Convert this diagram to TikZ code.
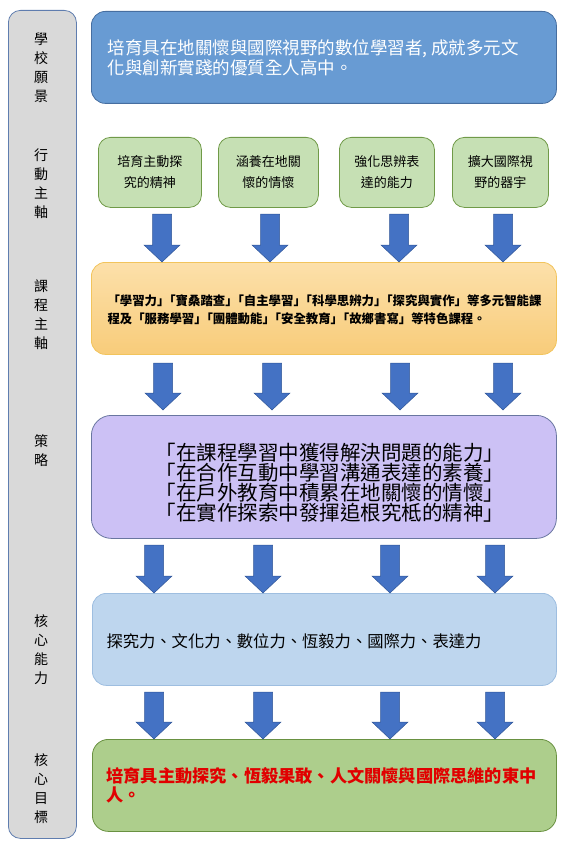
\documentclass[tikz,border=0pt]{standalone}
\usepackage{fontspec}
\setmainfont{Noto Sans CJK TC}
\definecolor{colfill}{RGB}{217,217,217}
\definecolor{colline}{RGB}{95,125,175}
\definecolor{visfill}{RGB}{104,155,211}
\definecolor{visline}{RGB}{70,110,160}
\definecolor{actfill}{RGB}{198,224,180}
\definecolor{actline}{RGB}{112,154,72}
\definecolor{crstop}{RGB}{252,224,170}
\definecolor{crsbot}{RGB}{248,204,122}
\definecolor{crsline}{RGB}{242,196,92}
\definecolor{strfill}{RGB}{204,193,245}
\definecolor{strline}{RGB}{105,118,160}
\definecolor{capfill}{RGB}{190,214,238}
\definecolor{capline}{RGB}{158,190,224}
\definecolor{goalfill}{RGB}{173,206,140}
\definecolor{goalline}{RGB}{105,145,65}
\definecolor{goaltext}{RGB}{225,0,0}
\definecolor{arrfill}{RGB}{68,114,196}
\definecolor{arrline}{RGB}{47,85,151}
\newcommand\blockarrow[3]{%
  \filldraw[arrowshape] (#1-9.5,#2) -- (#1+9.5,#2) -- (#1+9.5,#3-17) -- (#1+18,#3-17)
    -- (#1,#3) -- (#1-18,#3-17) -- (#1-9.5,#3-17) -- cycle;}
\tikzset{
  bigbox/.style={rounded corners=14pt, line width=0.8pt, inner sep=0pt, anchor=north west},
  actbox/.style={bigbox, rounded corners=12pt, fill=actfill, draw=actline, minimum height=70pt},
  acttext/.style={align=center, font=\fontsize{13pt}{21pt}\selectfont},
  sidelabel/.style={align=center, font=\fontsize{14pt}{19pt}\selectfont},
  arrowshape/.style={fill=arrfill, draw=arrline, line width=0.5pt},
}
\newcommand\crk{\kern-.5em}
\begin{document}
\begin{tikzpicture}[x=1pt,y=-1pt]
\useasboundingbox (0,0) rectangle (563,845);
% left column
\node[bigbox, rounded corners=12pt, fill=colfill, draw=colline, minimum width=68pt, minimum height=828pt] (col) at (8,10) {};
\node[sidelabel] (l1) at (41,68) {學\\校\\願\\景};
\node[sidelabel] (l2) at (41,183.5) {行\\動\\主\\軸};
\node[sidelabel] (l3) at (41,315) {課\\程\\主\\軸};
\node[sidelabel] (l4) at (41,451) {策\\略};
\node[sidelabel] (l5) at (41,650) {核\\心\\能\\力};
\node[sidelabel] (l6) at (41,789) {核\\心\\目\\標};
% vision
\node[bigbox, fill=visfill, draw=visline, minimum width=465pt, minimum height=92pt] (vision) at (91,11) {};
\node[anchor=west, align=left, text=white, font=\fontsize{17.5pt}{20pt}\selectfont] (visiontext) at ([xshift=13pt]vision.west)
  {培育具在地關懷與國際視野的數位學習者, 成就多元文\\化與創新實踐的優質全人高中。};
% action boxes
\node[actbox, minimum width=103pt] (a1) at (98,137) {};
\node[actbox, minimum width=100pt] (a2) at (218,137) {};
\node[actbox, minimum width=95pt] (a3) at (339,137) {};
\node[actbox, minimum width=96pt] (a4) at (452,137) {};
\node[acttext] (t1) at (a1.center) {培育主動探\\究的精神};
\node[acttext] (t2) at (a2.center) {涵養在地關\\懷的情懷};
\node[acttext] (t3) at (a3.center) {強化思辨表\\達的能力};
\node[acttext] (t4) at (a4.center) {擴大國際視\\野的器宇};
% course
\node[bigbox, top color=crstop, bottom color=crsbot, draw=crsline, minimum width=465pt, minimum height=92pt] (course) at (91,262) {};
\node[anchor=west, align=left, font=\bfseries\fontsize{12.4pt}{18pt}\selectfont] (coursetext) at ([xshift=13pt,yshift=-1.5pt]course.west)
  {「學習力」\crk「寶桑踏查」\crk「自主學習」\crk「科學思辨力」\crk「探究與實作」等多元智能課\\程及「服務學習」\crk「團體動能」\crk「安全教育」\crk「故鄉書寫」等特色課程。};
% strategy
\node[bigbox, rounded corners=20pt, fill=strfill, draw=strline, minimum width=465pt, minimum height=123pt] (strat) at (91,415) {};
\node[align=center, font=\fontsize{20.5pt}{20pt}\selectfont] (strattext) at (330,483)
  {「在課程學習中獲得解決問題的能力」\\「在合作互動中學習溝通表達的素養」\\「在戶外教育中積累在地關懷的情懷」\\「在實作探索中發揮追根究柢的精神」};
% core abilities
\node[bigbox, fill=capfill, draw=capline, minimum width=464pt, minimum height=92pt] (cap) at (92,593) {};
\node[anchor=west, font=\fontsize{16.3pt}{20pt}\selectfont] (captext) at (103,641)
  {探究力、文化力、數位力、恆毅力、國際力、表達力};
% core goal
\node[bigbox, rounded corners=16pt, fill=goalfill, draw=goalline, minimum width=464pt, minimum height=92pt] (goal) at (92,739) {};
\node[anchor=west, align=left, text=goaltext, font=\bfseries\fontsize{17.2pt}{19.5pt}\selectfont] (goaltext) at (103,785.5)
  {培育具主動探究、恆毅果敢、人文關懷與國際思維的東中\\人。};
% arrows
\foreach \x in {162,270,399,503} {\blockarrow{\x}{214}{262}}
\foreach \x in {163,272,400,503} {\blockarrow{\x}{363}{410}}
\foreach \x in {154,263,390,495} {\blockarrow{\x}{545}{593}}
\foreach \x in {154,263,390,495} {\blockarrow{\x}{692}{739}}
\end{tikzpicture}
\end{document}
